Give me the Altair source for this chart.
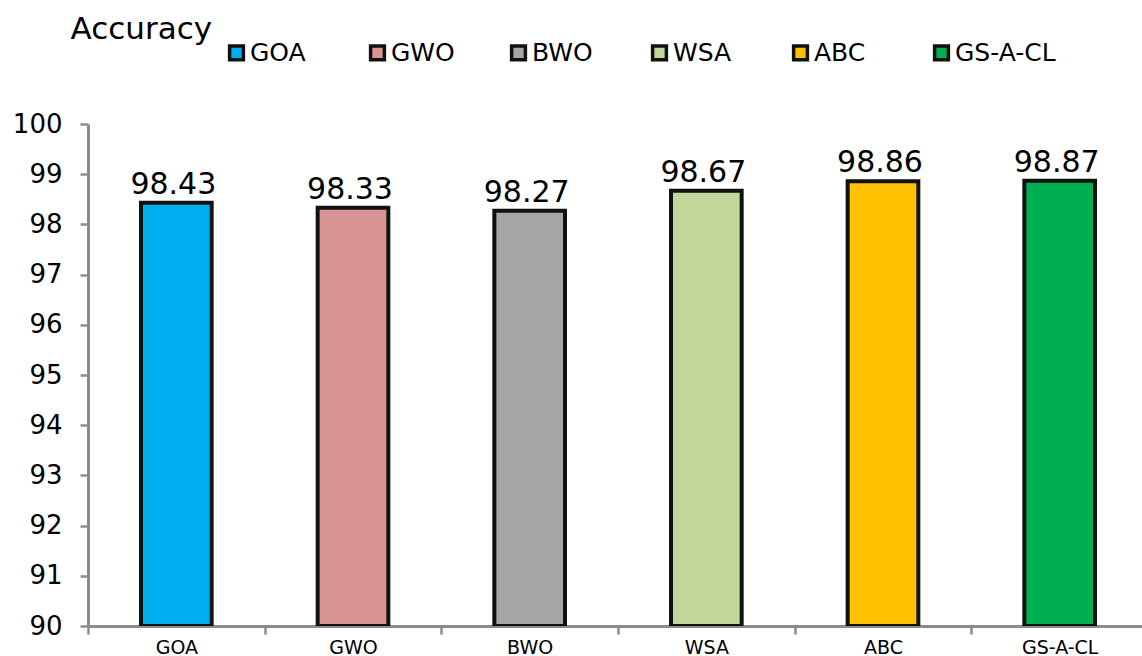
import altair as alt
import pandas as pd

# Classification accuracy (%) for each optimiser
methods = ["GOA", "GWO", "BWO", "WSA", "ABC", "GS-A-CL"]
accuracy = [98.43, 98.33, 98.27, 98.67, 98.86, 98.87]
colors = ["#00B0F0", "#D99594", "#A6A6A6", "#C4D79B", "#FFC000", "#00B050"]
y_ticks = [90, 91, 92, 93, 94, 95, 96, 97, 98, 99, 100]

df = pd.DataFrame({"method": methods, "acc": accuracy})

FONT = "DejaVu Sans"
AXIS_GRAY = "#8C8C8C"
BAND_SPAN = 1060          # category axis runs slightly past the right edge
STEP = BAND_SPAN / len(methods)

base = alt.Chart(df).encode(
    x=alt.X(
        "method:N",
        sort=methods,
        scale=alt.Scale(paddingInner=0.6, paddingOuter=0.3, range=[0, BAND_SPAN]),
        axis=alt.Axis(
            title=None,
            labelAngle=0,
            labelFont=FONT,
            labelFontSize=19,
            labelColor="black",
            labelPadding=4,
            # ticks sit between categories, labels stay centred
            tickOffset=-STEP / 2,
            labelOffset=STEP / 2,
            tickSize=8,
            tickWidth=2.5,
            tickColor=AXIS_GRAY,
            domainColor=AXIS_GRAY,
            domainWidth=3,
            grid=False,
        ),
    ),
    y=alt.Y(
        "acc:Q",
        scale=alt.Scale(domain=[90, 100], nice=False, zero=False),
        axis=alt.Axis(
            values=y_ticks,
            title="Accuracy",
            titleAngle=0,
            titleX=-18,
            titleY=-86,
            titleAlign="left",
            titleBaseline="alphabetic",
            titleFont=FONT,
            titleFontSize=31,
            titleFontWeight="normal",
            titleColor="black",
            labelFont=FONT,
            labelFontSize=26,
            labelColor="black",
            labelPadding=18,
            tickSize=8,
            tickWidth=2.5,
            tickColor=AXIS_GRAY,
            domainColor=AXIS_GRAY,
            domainWidth=3,
            grid=False,
        ),
    ),
)

bars = base.mark_bar(stroke="#111111", strokeWidth=4, clip=True).encode(
    y2=alt.datum(90),
    color=alt.Color(
        "method:N",
        sort=methods,
        scale=alt.Scale(domain=methods, range=colors),
        legend=alt.Legend(
            title=None,
            orient="none",
            legendX=136,
            legendY=-84,
            direction="horizontal",
            columns=6,
            gridAlign="all",
            columnPadding=12,
            symbolType="square",
            symbolSize=190,
            symbolStrokeColor="#111111",
            symbolStrokeWidth=3.5,
            symbolOpacity=1,
            labelFont=FONT,
            labelFontSize=25,
            labelColor="black",
            labelOffset=1,
        ),
    ),
)

labels = base.mark_text(
    baseline="bottom", dy=-3, dx=-3, font=FONT, fontSize=30, color="black"
).encode(text=alt.Text("acc:Q", format=".2f"))

chart = (
    alt.layer(bars, labels)
    .properties(
        width=1054,
        height=502,
        autosize=alt.AutoSizeParams(type="none"),
        padding={"left": 88, "top": 124, "right": 0, "bottom": 30},
        background="white",
    )
    .configure_view(stroke=None)
)

chart.save("out.html", embed_options={"renderer": "svg", "actions": False})
